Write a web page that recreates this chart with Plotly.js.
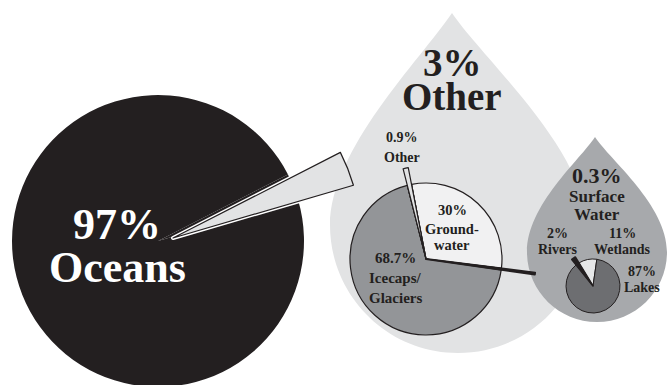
<!DOCTYPE html>
<html><head><meta charset="utf-8">
<script src="https://cdn.plot.ly/plotly-3.0.1.min.js"></script>
<style>
html,body{margin:0;padding:0;overflow:hidden;background:#fff;width:670px;height:385px}
#chart{position:absolute;left:-40px;top:0;width:710px;height:440px}
</style>
</head><body><div id="chart"></div>
<script>
// ---- data ----
const totalLabels = ['Other', 'Oceans'];
const totalValues = [3, 97];
const otherLabels = ['Ground-<br>water', 'Surface<br>Water', 'Icecaps/<br>Glaciers', 'Other'];
const otherValues = [30, 0.3, 68.7, 0.9];
const surfaceLabels = ['Rivers', 'Wetlands', 'Lakes'];
const surfaceValues = [2, 11, 87];

// ---- geometry helpers (plot is 710x440, shifted 40px left) ----
const OX = 40, W = 710, H = 440;
const px = x => (x + OX) / W;
const py = y => 1 - y / H;
function dom(cx, cy, r) {
  return {x: [px(cx - r), px(cx + r)], y: [py(cy + r), py(cy - r)]};
}
const T = 'rgba(0,0,0,0)';
const INK = '#231f20';
function pie(labels, values, d, colors, lineColor, lineWidth, rotation) {
  return {type: 'pie', labels: labels, values: values, domain: d, sort: false,
    direction: 'clockwise', rotation: rotation, textinfo: 'none', hoverinfo: 'skip',
    showlegend: false, marker: {colors: colors, line: {color: lineColor, width: lineWidth}}};
}
function onlyIdx(n, i, c) { return Array.from({length: n}, (_, k) => k === i ? c : T); }

const traces = [
  pie(totalLabels, totalValues, dom(158, 241, 146), [INK, INK], INK, 0, 62.9),
  pie(totalLabels, totalValues, dom(173, 238, 140), onlyIdx(2, 0, '#ffffff'), onlyIdx(2, 0, '#ffffff'), 4, 62.9),
  pie(totalLabels, totalValues, dom(173, 238, 188), onlyIdx(2, 0, '#e2e3e4'), onlyIdx(2, 0, INK), 1.2, 62.9),
  pie(otherLabels, otherValues, dom(426, 259, 76), ['#f1f1f2', INK, '#939598', '#e2e3e4'], INK, 1.2, -11),
  pie(otherLabels, otherValues, dom(426, 259, 93), onlyIdx(4, 3, '#e2e3e4'), onlyIdx(4, 3, INK), 1.2, -11),
  pie(otherLabels, otherValues, dom(426, 259, 110), onlyIdx(4, 1, INK), onlyIdx(4, 1, INK), 1.8, -11),
  pie(surfaceLabels, surfaceValues, dom(593, 286, 27), [INK, '#e6e7e8', '#6d6e71'], INK, 1, -38.6),
  pie(surfaceLabels, surfaceValues, dom(593, 286, 34), onlyIdx(3, 0, INK), onlyIdx(3, 0, INK), 1.6, -38.6)
];

// ---- drop shapes ----
function P(x, y) { return px(x).toFixed(5) + ',' + py(y).toFixed(5); }
function dropPath(ax, ay, cx, cy, r, l1, l2, r1, r2) {
  const k = 0.5523 * r;
  return 'M' + P(ax, ay) +
    ' C' + P(l1[0], l1[1]) + ' ' + P(l2[0], l2[1]) + ' ' + P(cx - r, cy) +
    ' C' + P(cx - r, cy + k) + ' ' + P(cx - k, cy + r) + ' ' + P(cx, cy + r) +
    ' C' + P(cx + k, cy + r) + ' ' + P(cx + r, cy + k) + ' ' + P(cx + r, cy) +
    ' C' + P(r2[0], r2[1]) + ' ' + P(r1[0], r1[1]) + ' ' + P(ax, ay) + ' Z';
}
const shapes = [
  {type: 'path', xref: 'paper', yref: 'paper', layer: 'below', fillcolor: '#e2e3e4', line: {width: 0},
   path: dropPath(452, 13, 458, 225, 128, [420, 60], [330, 150], [484, 60], [586, 150])},
  {type: 'path', xref: 'paper', yref: 'paper', layer: 'below', fillcolor: '#a7a9ac', line: {width: 0},
   path: dropPath(595, 137, 597, 252, 70, [580, 160], [527, 205], [610, 160], [667, 205])}
];

// ---- labels ----
const FONT = '"Liberation Serif", "DejaVu Serif", serif';
const pct = v => v + '%';
const annotations = [];
function lab(lines, x, baselines, sizes, color) {
  lines.forEach((t, i) => {
    const s = sizes[i];
    annotations.push({text: '<b>' + t + '</b>', x: px(x), y: py(baselines[i] - 0.34 * s),
      xref: 'paper', yref: 'paper', xanchor: 'center', yanchor: 'middle', showarrow: false,
      font: {family: FONT, size: s, color: color}});
  });
}
lab([pct(totalValues[1]), totalLabels[1]], 117, [239, 282], [44, 44], '#ffffff');
lab([pct(totalValues[0]), totalLabels[0]], 452, [76, 110], [39, 39], INK);
lab([pct(otherValues[3])].concat(otherLabels[3].split('<br>')), 402, [142, 162], [14, 14], INK);
lab([pct(otherValues[0])].concat(otherLabels[0].split('<br>')), 452, [215, 234, 250], [14.5, 14.5, 14.5], INK);
lab([pct(otherValues[2])].concat(otherLabels[2].split('<br>')), 395, [263, 283, 303], [15, 15, 15], INK);
lab([pct(otherValues[1])].concat(otherLabels[1].split('<br>')), 597, [183, 202, 220], [22, 17, 17], INK);
lab([pct(surfaceValues[0]), surfaceLabels[0]], 557, [238, 254], [14, 14], INK);
lab([pct(surfaceValues[1]), surfaceLabels[1]], 622, [238, 254], [14, 14], INK);
lab([pct(surfaceValues[2]), surfaceLabels[2]], 642, [276, 292], [14, 14], INK);

Plotly.newPlot('chart', traces, {
  width: W, height: H, margin: {l: 0, r: 0, t: 0, b: 0, pad: 0},
  paper_bgcolor: '#ffffff', showlegend: false,
  shapes: shapes, annotations: annotations
}, {staticPlot: true});
</script>
</body></html>
